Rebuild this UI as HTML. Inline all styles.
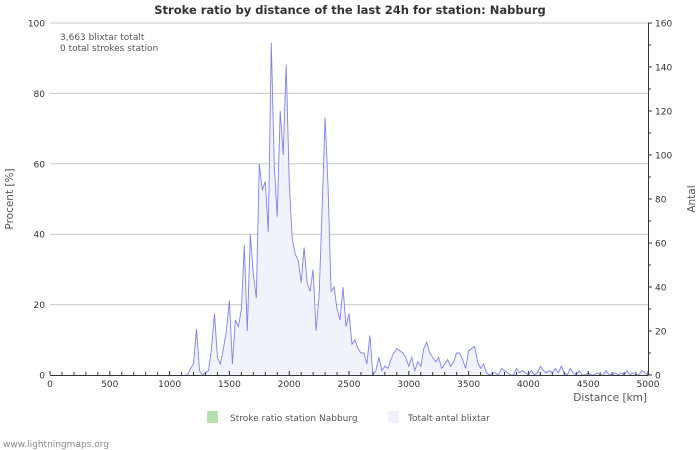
<!DOCTYPE html>
<html><head><meta charset="utf-8"><style>
html,body{margin:0;padding:0;background:#fff;}
svg{display:block;font-family:"DejaVu Sans","Liberation Sans",sans-serif;}
</style></head><body>
<svg id="chart" width="700" height="450" viewBox="0 0 700 450">
<text x="350" y="14" text-anchor="middle" font-size="11.5" font-weight="bold" fill="#333">Stroke ratio by distance of the last 24h for station: Nabburg</text>
<g id="grid"></g>
<g id="series"></g>
<g id="axes"></g>
<text x="60" y="40" font-size="9" fill="#555">3,663 blixtar totalt</text>
<text x="60" y="51" font-size="9" fill="#555">0 total strokes station</text>
<text transform="translate(13,199) rotate(-90)" text-anchor="middle" font-size="10.5" fill="#555">Procent   [%]</text>
<text transform="translate(695,199) rotate(-90)" text-anchor="middle" font-size="10.5" fill="#555">Antal</text>
<text x="647" y="401" text-anchor="end" font-size="10.5" fill="#555">Distance   [km]</text>
<rect x="207" y="411" width="11" height="12" fill="#b5e0b0"/>
<text x="230" y="421" font-size="9" fill="#555">Stroke ratio station Nabburg</text>
<rect x="388" y="411" width="11" height="12" fill="#f0f0ff"/>
<text x="408" y="421" font-size="9" fill="#555">Totalt antal blixtar</text>
<text x="3" y="447" font-size="9" fill="#888">www.lightningmaps.org</text>
</svg>
<script>
const leftTicks=[0,20,40,60,80,100];
const rightTicks=[0,20,40,60,80,100,120,140,160];
const xTicks=[0,500,1000,1500,2000,2500,3000,3500,4000,4500,5000];
const distances=[1125,1150,1175,1200,1225,1250,1275,1300,1325,1350,1375,1400,1425,1450,1475,1500,1525,1550,1575,1600,1625,1650,1675,1700,1725,1750,1775,1800,1825,1850,1875,1900,1925,1950,1975,2000,2025,2050,2075,2100,2125,2150,2175,2200,2225,2250,2275,2300,2325,2350,2375,2400,2425,2450,2475,2500,2525,2550,2575,2600,2625,2650,2675,2700,2725,2750,2775,2800,2825,2850,2875,2900,2925,2950,2975,3000,3025,3050,3075,3100,3125,3150,3175,3200,3225,3250,3275,3300,3325,3350,3375,3400,3425,3450,3475,3500,3525,3550,3575,3600,3625,3650,3675,3700,3725,3750,3775,3800,3825,3850,3875,3900,3925,3950,3975,4000,4025,4050,4075,4100,4125,4150,4175,4200,4225,4250,4275,4300,4325,4350,4375,4400,4425,4450,4475,4500,4525,4550,4575,4600,4625,4650,4675,4700,4725,4750,4775,4800,4825,4850,4875,4900,4925,4950,4975,5000];
const totals=[0,0,3,5,21,2,0,1,2,12,28,8,5,12,20,34,5,25,22,30,59,20,64,46,35,96,84,88,65,151,95,72,120,100,141,88,62,55,52,42,58,42,38,48,20,36,75,117,85,38,40,30,25,40,22,28,14,16,12,10,10,5,18,0,2,8,2,4,3,7,10,12,11,10,8,4,8,2,6,4,12,15,10,8,6,8,3,5,7,4,6,10,10,7,3,11,12,13,6,3,5,1,0,1,1,0,3,2,1,0,0,3,1,2,1,0,2,0,1,4,2,1,2,1,3,1,4,1,0,3,1,0,2,0,0,1,0,0,1,0,0,2,0,0,1,0,1,0,2,0,1,0,0,2,1,0];
const X0=50,X1=648,Y0=375,Y1=23;
const xs=v=>X0+(v/5000)*(X1-X0);
const yl=v=>Y0-(v/100)*(Y0-Y1);
const yr=v=>Y0-(v/160)*(Y0-Y1);
const NS="http://www.w3.org/2000/svg";
function mk(tag,attrs,parent){const e=document.createElementNS(NS,tag);for(const k in attrs)e.setAttribute(k,attrs[k]);parent.appendChild(e);return e;}
const grid=document.getElementById('grid'),axes=document.getElementById('axes'),series=document.getElementById('series');
leftTicks.forEach(t=>{
  if(t>0){const g=mk('line',{x1:X0,x2:X1,y1:yl(t),y2:yl(t),stroke:'#c8c8c8','stroke-width':1},grid);
  
  }
  const l=mk('text',{x:X0-5,y:yl(t)+3.5,'text-anchor':'end','font-size':9,fill:'#333'},axes);
  l.textContent=t;
  
  
});
for(let v=0;v<=160;v+=10){
  mk('line',{x1:X1,x2:X1+(v%20===0?4:3),y1:yr(v),y2:yr(v),stroke:'#333'},axes);
}
rightTicks.forEach(t=>{
  const l=mk('text',{x:X1+7,y:yr(t)+3.5,'font-size':9,fill:'#333'},axes);
  l.textContent=t;
  
  
});
for(let v=0;v<=5000;v+=100){
  mk('line',{x1:xs(v),x2:xs(v),y1:Y0,y2:Y0-(v%500===0?4:3),stroke:'#333'},axes);
}
xTicks.forEach(t=>{
  const l=mk('text',{x:xs(t),y:Y0+12,'text-anchor':'middle','font-size':9,fill:'#333'},axes);
  l.textContent=t;
  
  
});
let pts=distances.map((d,i)=>xs(d).toFixed(1)+','+yr(totals[i]).toFixed(1));
const area=mk('polygon',{points:xs(distances[0])+','+Y0+' '+pts.join(' ')+' '+xs(distances[distances.length-1])+','+Y0,fill:'#f2f2fc',stroke:'none'},series);


const line=mk('polyline',{points:pts.join(' '),fill:'none',stroke:'#8080f0','stroke-width':0.9},series);


mk('line',{x1:X0,x2:X1,y1:Y0+0.5,y2:Y0+0.5,stroke:'#333'},axes);
mk('line',{x1:X1+0.5,x2:X1+0.5,y1:Y1,y2:Y0,stroke:'#333'},axes);
</script>
</body></html>
